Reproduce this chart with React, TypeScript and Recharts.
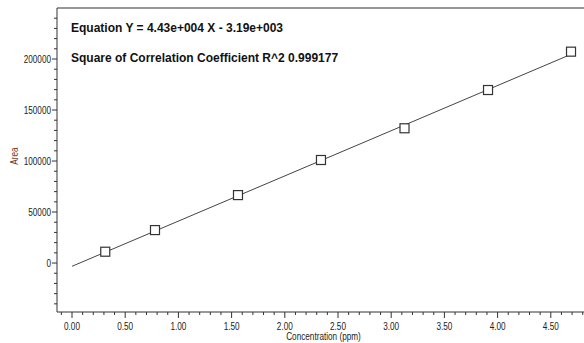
import React from 'react';
import { ComposedChart, Scatter, XAxis, YAxis, ReferenceLine } from 'recharts';

const concentration = [0.3125, 0.78, 1.56, 2.34, 3.125, 3.91, 4.69];
const area = [11100, 32300, 66600, 101000, 132100, 169600, 207200];
const fitX = [0, 4.69];
const fitY = [-3190, 204577];
const xMajorTicks = [0, 0.5, 1, 1.5, 2, 2.5, 3, 3.5, 4, 4.5];
const yMajorTicks = [0, 50000, 100000, 150000, 200000];
const xDomain = [-0.141, 4.812];
const yDomain = [-48000, 250000];
const equationText = 'Equation Y = 4.43e+004 X - 3.19e+003';
const r2Text = 'Square of Correlation Coefficient R^2 0.999177';

const points = concentration.map((x, i) => ({ x, y: area[i] }));
const fitLine = fitX.map((x, i) => ({ x, y: fitY[i] }));

const xAllTicks: number[] = [];
for (let i = -1; i <= 48; i++) xAllTicks.push(i / 10);
const yAllTicks: number[] = [];
for (let v = -40000; v <= 240000; v += 10000) yAllTicks.push(v);

const FONT = "'Liberation Sans', Arial, sans-serif";
const AX = '#333';
const SQUEEZE = 0.82;

const isMajorX = (v: number) => xMajorTicks.some((m) => Math.abs(m - v) < 1e-6);

const XTick = (props: any) => {
  const { x, y, payload } = props;
  const v = payload.value as number;
  const major = isMajorX(v);
  return (
    <g>
      <line x1={x} x2={x} y1={y} y2={y + (major ? 6 : 3)} stroke={AX} strokeWidth={1} />
      {major && (
        <text transform={`translate(${x},${y + 18}) scale(${SQUEEZE},1)`} textAnchor="middle" fontFamily={FONT} fontSize={10} fill="#222">
          {v.toFixed(2)}
        </text>
      )}
    </g>
  );
};

const YTick = (props: any) => {
  const { x, y, payload } = props;
  const v = payload.value as number;
  const major = yMajorTicks.includes(v);
  return (
    <g>
      <line x1={x - (major ? 5 : 3)} x2={x} y1={y} y2={y} stroke={AX} strokeWidth={1} />
      {major && (
        <text transform={`translate(${x - 6},${y + 3.5}) scale(${SQUEEZE},1)`} textAnchor="end" fontFamily={FONT} fontSize={10} fill="#222">
          {String(v)}
        </text>
      )}
    </g>
  );
};

const SquareShape = (props: any) => {
  const { cx, cy } = props;
  if (cx == null || cy == null) return null;
  return <rect x={cx - 4.5} y={cy - 4.5} width={9} height={9} fill="#fff" stroke="#333" strokeWidth={1.2} />;
};

const NoShape = () => null;

const YLabel = (props: any) => {
  const vb = props.viewBox || { x: 0, y: 8, width: 57, height: 304 };
  const cx = vb.x + 18;
  const cy = vb.y + vb.height / 2 - 4;
  return (
    <text transform={`translate(${cx},${cy}) rotate(-90) scale(${SQUEEZE},1)`} textAnchor="middle" fontFamily={FONT} fontSize={10} fill="#7a3b1e">
      Area
    </text>
  );
};

const XLabel = (props: any) => {
  const vb = props.viewBox || { x: 57, y: 312, width: 527, height: 31 };
  return (
    <text transform={`translate(${vb.x + vb.width / 2 + 3},${vb.y + 28}) scale(${SQUEEZE},1)`} textAnchor="middle" fontFamily={FONT} fontSize={10} fill="#222">
      Concentration (ppm)
    </text>
  );
};

export default function App() {
  return (
    <div style={{ position: 'absolute', left: 0, top: 0, width: 584, height: 343, background: '#fff' }}>
      <ComposedChart width={584} height={343} margin={{ top: 8, right: 0, bottom: 0, left: 0 }}>
        <XAxis
          type="number"
          dataKey="x"
          domain={xDomain}
          allowDataOverflow
          ticks={xAllTicks}
          interval={0}
          tick={<XTick />}
          tickLine={false}
          tickSize={0}
          tickMargin={0}
          height={31}
          axisLine={{ stroke: AX, strokeWidth: 1 }}
          label={<XLabel />}
        />
        <YAxis
          type="number"
          dataKey="y"
          domain={yDomain}
          allowDataOverflow
          ticks={yAllTicks}
          interval={0}
          tick={<YTick />}
          tickLine={false}
          tickSize={0}
          tickMargin={0}
          width={57}
          axisLine={{ stroke: AX, strokeWidth: 1 }}
          label={<YLabel />}
        />
        <ReferenceLine y={yDomain[1]} stroke={AX} strokeWidth={1.2} />
        <Scatter data={fitLine} line={{ stroke: '#444', strokeWidth: 1 }} shape={<NoShape />} isAnimationActive={false} />
        <Scatter data={points} shape={<SquareShape />} isAnimationActive={false} />
      </ComposedChart>
      <svg width={584} height={343} style={{ position: 'absolute', left: 0, top: 0, pointerEvents: 'none' }}>
        <text x={71} y={32} fontFamily={FONT} fontWeight="bold" fontSize={12} fill="#111">
          {equationText}
        </text>
        <text x={71} y={62} fontFamily={FONT} fontWeight="bold" fontSize={12} fill="#111">
          {r2Text}
        </text>
      </svg>
    </div>
  );
}
